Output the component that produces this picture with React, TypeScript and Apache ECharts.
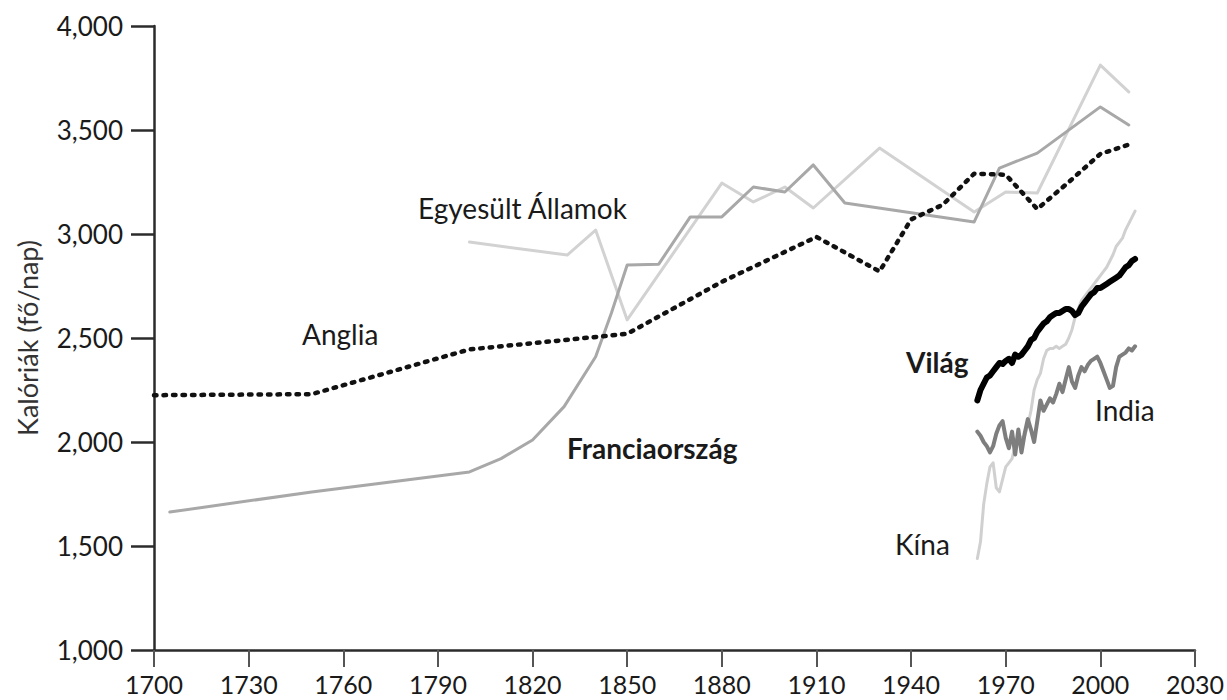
import React, { useEffect, useRef } from "react";
import * as echarts from "echarts";

const xTicks = [1700, 1730, 1760, 1790, 1820, 1850, 1880, 1910, 1940, 1970, 2000, 2030];
const yTicks = [1000, 1500, 2000, 2500, 3000, 3500, 4000];

const englandYears = [1700, 1750, 1800, 1850, 1880, 1910, 1930, 1940, 1950, 1960, 1970, 1980, 1990, 2000, 2009];
const englandValues = [2225, 2230, 2445, 2520, 2770, 2986, 2820, 3070, 3140, 3290, 3285, 3120, 3250, 3385, 3430];

const franceYears = [1705, 1750, 1800, 1810, 1820, 1830, 1840, 1845, 1850, 1860, 1870, 1880, 1890, 1900, 1909, 1919, 1960, 1968, 1980, 2000, 2009];
const franceValues = [1663, 1760, 1856, 1920, 2010, 2170, 2410, 2620, 2851, 2855, 3082, 3082, 3226, 3202, 3332, 3149, 3058, 3317, 3389, 3611, 3524];

const usYears = [1800, 1831, 1840, 1850, 1880, 1890, 1900, 1909, 1930, 1960, 1970, 1980, 2000, 2009];
const usValues = [2961, 2899, 3019, 2587, 3245, 3154, 3226, 3125, 3413, 3106, 3202, 3197, 3812, 3683];

const annualYears = [
  1961, 1962, 1963, 1964, 1965, 1966, 1967, 1968, 1969, 1970, 1971, 1972, 1973, 1974, 1975, 1976, 1977, 1978,
  1979, 1980, 1981, 1982, 1983, 1984, 1985, 1986, 1987, 1988, 1989, 1990, 1991, 1992, 1993, 1994, 1995, 1996,
  1997, 1998, 1999, 2000, 2001, 2002, 2003, 2004, 2005, 2006, 2007, 2008, 2009, 2010, 2011,
];
const worldValues = [
  2200, 2250, 2280, 2310, 2320, 2340, 2360, 2380, 2375, 2390, 2400, 2380, 2420, 2410, 2420, 2440, 2460, 2490,
  2500, 2530, 2550, 2570, 2580, 2600, 2610, 2620, 2620, 2630, 2640, 2640, 2630, 2610, 2620, 2650, 2670, 2690,
  2710, 2720, 2740, 2740, 2750, 2760, 2770, 2780, 2790, 2800, 2820, 2840, 2850, 2870, 2880,
];
const chinaValues = [
  1440, 1520, 1700, 1800, 1880, 1900, 1780, 1760, 1820, 1880, 1900, 1920, 1980, 2000, 2020, 2030, 2080, 2150,
  2250, 2300, 2330, 2400, 2440, 2450, 2450, 2460, 2450, 2460, 2470, 2500, 2540, 2600, 2640, 2680, 2700, 2720,
  2740, 2760, 2780, 2800, 2820, 2840, 2870, 2900, 2940, 2960, 2980, 3020, 3050, 3080, 3110,
];
const indiaValues = [
  2050, 2030, 2000, 1980, 1950, 1980, 2040, 2080, 2100, 2020, 1970, 2050, 1940, 2060, 1950, 2040, 2110, 2060,
  2000, 2100, 2200, 2150, 2180, 2210, 2190, 2230, 2280, 2240, 2300, 2360, 2290, 2260, 2320, 2360, 2340, 2370,
  2390, 2400, 2410, 2380, 2340, 2300, 2260, 2270, 2360, 2410, 2420, 2430, 2450, 2440, 2460,
];

const labels = [
  { text: "Egyesült Államok", x: 418, y: 211, bold: false },
  { text: "Anglia", x: 302, y: 337, bold: false },
  { text: "Franciaország", x: 567, y: 451, bold: true },
  { text: "Világ", x: 906, y: 365, bold: true },
  { text: "India", x: 1095, y: 413, bold: false },
  { text: "Kína", x: 895, y: 547, bold: false },
];

const FONT = "Lato";

const zip = (xs: number[], ys: number[]) => xs.map((x, i) => [x, ys[i]]);

export default function App() {
  const ref = useRef<HTMLDivElement>(null);
  useEffect(() => {
    if (!ref.current) return;
    const chart = echarts.init(ref.current, undefined, { renderer: "svg" });
    const lineBase = (name: string, xs: number[], ys: number[], color: string, width: number, z: number, type: any = "solid") => ({
      name,
      type: "line",
      data: zip(xs, ys),
      showSymbol: false,
      symbol: "none",
      z,
      lineStyle: { color, width, type, cap: "round", join: "round" },
    });
    chart.setOption({
      animation: false,
      backgroundColor: "#ffffff",
      grid: { left: 154, right: 31, top: 26, bottom: 50, containLabel: false },
      xAxis: {
        type: "value",
        min: xTicks[0],
        max: xTicks[xTicks.length - 1],
        interval: 30,
        splitLine: { show: false },
        axisLine: { show: true, lineStyle: { color: "#2b2b2b", width: 2.5 } },
        axisTick: { show: true, length: 17, lineStyle: { color: "#555", width: 2 } },
        axisLabel: {
          color: "#1a1a1a",
          fontSize: 25,
          fontFamily: FONT,
          margin: 21,
          showMinLabel: true,
          showMaxLabel: true,
          formatter: (v: number) => String(v),
        },
      },
      yAxis: {
        type: "value",
        min: yTicks[0],
        max: yTicks[yTicks.length - 1],
        interval: 500,
        name: "Kalóriák (fő/nap)",
        nameLocation: "middle",
        nameGap: 113,
        nameTextStyle: { color: "#333", fontSize: 27, fontFamily: FONT },
        splitLine: { show: false },
        axisLine: { show: true, lineStyle: { color: "#2b2b2b", width: 2.5 } },
        axisTick: { show: true, length: 23, lineStyle: { color: "#2b2b2b", width: 2.5 } },
        axisLabel: {
          color: "#1a1a1a",
          fontSize: 26,
          fontFamily: FONT,
          margin: 31,
          formatter: (v: number) => v.toLocaleString("en-US"),
        },
      },
      series: [
        lineBase("Franciaország", franceYears, franceValues, "#a8a8a8", 3, 3),
        lineBase("Egyesült Államok", usYears, usValues, "#d2d2d2", 3, 2),
        lineBase("Anglia", englandYears, englandValues, "#111111", 4.5, 5, [2.5, 7]),
        lineBase("Kína", annualYears, chinaValues, "#d0d0d0", 3, 2),
        lineBase("India", annualYears, indiaValues, "#7e7e7e", 4, 4),
        lineBase("Világ", annualYears, worldValues, "#000000", 6, 6),
      ],
      graphic: labels.map((l) => ({
        type: "text",
        left: l.x,
        top: l.y - 17,
        style: {
          text: l.text,
          fill: "#1a1a1a",
          font: `${l.bold ? "bold " : ""}28px ${FONT}`,
        },
      })),
    });
    return () => chart.dispose();
  }, []);
  return <div ref={ref} style={{ width: 1227, height: 700, position: "absolute", left: 0, top: 0 }} />;
}
